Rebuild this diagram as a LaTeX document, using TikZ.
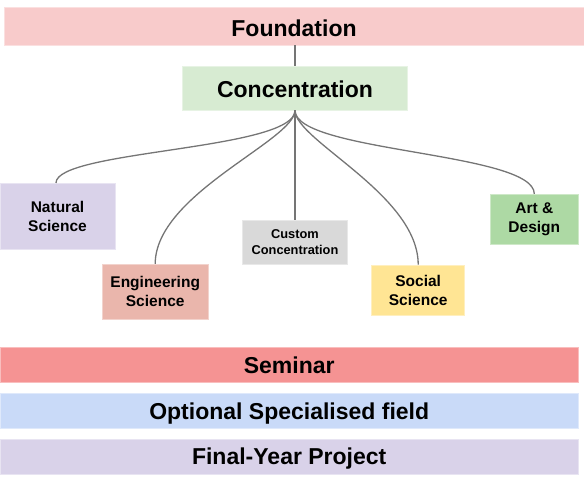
\documentclass[tikz,border=0pt]{standalone}
\usepackage{fontspec}
\setmainfont{Liberation Sans}
\definecolor{cFound}{HTML}{F8CBCB}
\definecolor{cConc}{HTML}{D7EBD2}
\definecolor{cNat}{HTML}{D9D2E9}
\definecolor{cEng}{HTML}{EAB6AC}
\definecolor{cCust}{HTML}{D9D9D9}
\definecolor{cSoc}{HTML}{FFE594}
\definecolor{cArt}{HTML}{ADD9A4}
\definecolor{cSem}{HTML}{F59393}
\definecolor{cOpt}{HTML}{C9DAF8}
\definecolor{cLine}{HTML}{757575}
\tikzset{
  box/.style={rectangle, inner sep=0pt, align=center, font=\bfseries, line width=0.8pt},
  big/.style={box, font=\bfseries\fontsize{23}{27}\selectfont, text height=17.5pt, text depth=0pt},
  mid/.style={box, font=\bfseries\fontsize{15.5}{19}\selectfont},
  small/.style={box, font=\bfseries\fontsize{12.8}{16.5}\selectfont},
  conn/.style={draw=cLine, line width=1.3pt},
}
\begin{document}
\begin{tikzpicture}[x=1pt, y=-1pt]
\useasboundingbox (0,0) rectangle (584,479);
\node[big, text height=21.5pt, fill=cFound, draw=cFound!60!white, minimum width=580pt, minimum height=37.7pt] (found) at (294,26.2) {Foundation};
\node[big, fill=cConc, draw=cConc!60!white, minimum width=225.4pt, minimum height=43.3pt] (conc) at (295,88.3) {Concentration};
\node[mid, fill=cNat, draw=cNat!60!white, minimum width=115pt, minimum height=65.7pt] (ns) at (57.5,216.2) {Natural\\Science};
\node[mid, fill=cEng, draw=cEng!60!white, minimum width=105.7pt, minimum height=54.7pt] (es) at (155.2,291.7) {Engineering\\Science};
\node[small, fill=cCust, draw=cCust!60!white, minimum width=105.4pt, minimum height=44pt] (cc) at (295,242) {Custom\\Concentration};
\node[mid, fill=cSoc, draw=cSoc!60!white, minimum width=93pt, minimum height=50pt] (ss) at (418.2,290) {Social\\Science};
\node[mid, fill=cArt, draw=cArt!60!white, minimum width=88.7pt, minimum height=50pt] (ad) at (534.3,219.3) {Art \&\\Design};
\node[big, fill=cSem, draw=cSem!60!white, minimum width=578.3pt, minimum height=35.4pt] (sem) at (289.2,365) {Seminar};
\node[big, fill=cOpt, draw=cOpt!60!white, minimum width=578.3pt, minimum height=35pt] (opt) at (289.2,410.8) {Optional Specialised field};
\node[big, text height=16.5pt, fill=cNat, draw=cNat!60!white, minimum width=578.3pt, minimum height=35pt] (fyp) at (289.2,456.5) {Final-Year Project};
\draw[conn] (found.south -| conc.north) -- (conc.north);
\draw[conn] (conc.south) .. controls +(0,40) and +(0,-33) .. ([xshift=-1.5pt]ns.north);
\draw[conn] (conc.south) .. controls +(0,30) and +(0,-70) .. (es.north);
\draw[conn] (conc.south) -- (cc.north);
\draw[conn] (conc.south) .. controls +(0,30) and +(0,-70) .. (ss.north);
\draw[conn] (conc.south) .. controls +(0,42) and +(0,-42) .. (ad.north);
\end{tikzpicture}
\end{document}
